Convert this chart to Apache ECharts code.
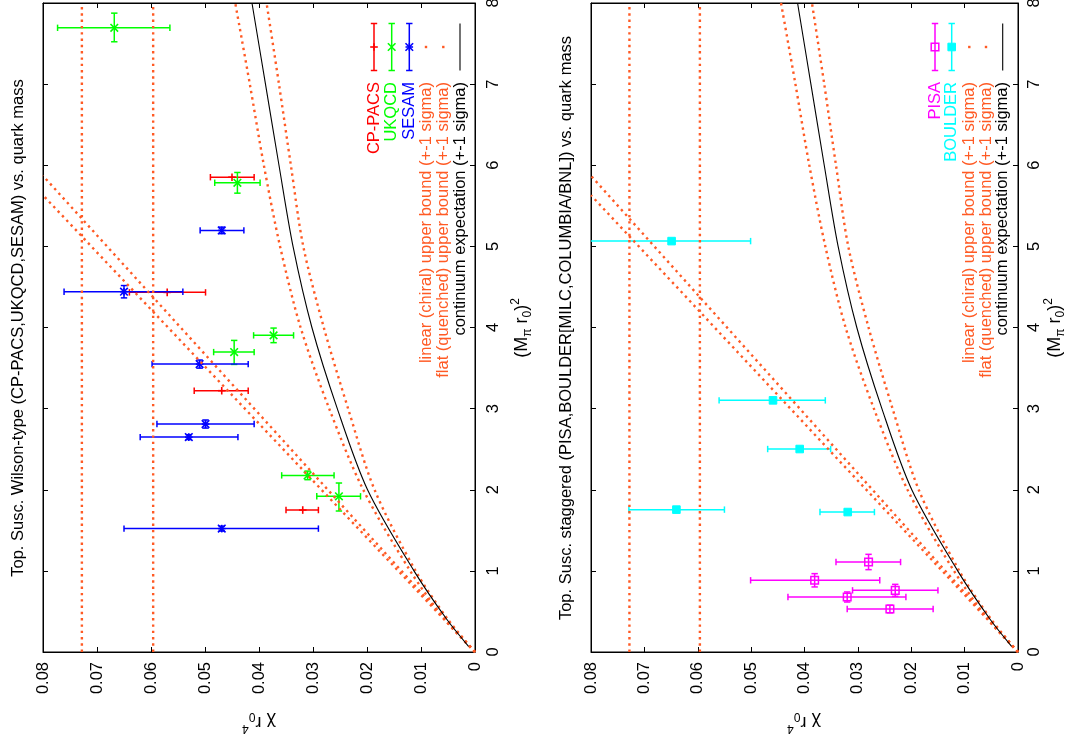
<!DOCTYPE html>
<html>
<head>
<meta charset="utf-8">
<title>Topological susceptibility vs. quark mass</title>
<script src="https://cdn.jsdelivr.net/npm/echarts@6/dist/echarts.min.js"></script>
<style>
  html, body { margin: 0; padding: 0; background: #fff; }
  #chart { width: 1072px; height: 742px; }
</style>
</head>
<body>
<div id="chart"></div>
<script>
const FONT = '"Liberation Sans", Arial, Helvetica, sans-serif';
const FONT_SIZE = 16.5;
const ORANGE = "#ff5a24";

// tick labels
const chiTickLabels = ["0", "0.01", "0.02", "0.03", "0.04", "0.05", "0.06", "0.07", "0.08"];
const massTickLabels = ["0", "1", "2", "3", "4", "5", "6", "7", "8"];

// Wilson-type data: mass = (M_pi r0)^2, chi = chi r0^4
const cpPacsMass = [5.853, 4.433, 3.221, 1.75];
const cpPacsChi = [0.045, 0.057, 0.0469, 0.0319];
const cpPacsChiLo = [0.0409, 0.0499, 0.042, 0.029];
const cpPacsChiHi = [0.049, 0.064, 0.052, 0.035];

const ukqcdMass = [7.694, 5.784, 3.903, 3.697, 2.177, 1.919];
const ukqcdMassLo = [7.522, 5.656, 3.813, 3.545, 2.124, 1.738];
const ukqcdMassHi = [7.875, 5.911, 3.993, 3.841, 2.23, 2.083];
const ukqcdChi = [0.0668, 0.044, 0.0373, 0.0446, 0.031, 0.0252];
const ukqcdChiLo = [0.0565, 0.0398, 0.0336, 0.0409, 0.0261, 0.0212];
const ukqcdChiHi = [0.0773, 0.0482, 0.041, 0.0484, 0.0358, 0.0293];

const sesamMass = [5.197, 4.441, 3.549, 2.81, 2.649, 1.521];
const sesamMassLo = [5.157, 4.365, 3.499, 2.76, 2.619, 1.491];
const sesamMassHi = [5.237, 4.517, 3.599, 2.86, 2.679, 1.551];
const sesamChi = [0.0469, 0.065, 0.051, 0.0499, 0.053, 0.0469];
const sesamChiLo = [0.0428, 0.0541, 0.042, 0.0409, 0.0439, 0.029];
const sesamChiHi = [0.0509, 0.0761, 0.0598, 0.0589, 0.062, 0.065];

// staggered data
const pisaMass = [1.109, 0.884, 0.76, 0.678, 0.53];
const pisaMassLo = [1.015, 0.802, 0.686, 0.616, 0.483];
const pisaMassHi = [1.204, 0.966, 0.834, 0.74, 0.577];
const pisaChi = [0.028, 0.0381, 0.023, 0.032, 0.024];
const pisaChiLo = [0.022, 0.0259, 0.015, 0.021, 0.0159];
const pisaChiHi = [0.0341, 0.0501, 0.031, 0.0431, 0.032];

const boulderMass = [5.065, 3.102, 2.502, 1.755, 1.725];
const boulderChi = [0.0649, 0.0459, 0.0409, 0.064, 0.0319];
const boulderChiLo = [0.0501, 0.0361, 0.0351, 0.055, 0.0269];
const boulderChiHi = [0.0805, 0.056, 0.0469, 0.0729, 0.0371];

// bounds and expectation curves
const flatBoundChi = [0.0728, 0.0596];
const flatBoundMass = [0, 8];
const chiralEndMass = [5.87, 5.63];
const chiralEndChi = 0.08;

const contMass = [0.07, 0.4, 1, 2, 3, 4, 5, 6, 7, 8];
const contChi = [0.0012, 0.0052, 0.0113, 0.0199, 0.0255, 0.0302, 0.0337, 0.0363, 0.0388, 0.0413];
const bandMass = [0, 0.4, 1, 2, 3, 4, 5, 6, 7, 8];
const bandUpperChi = [0, 0.0056, 0.012, 0.0207, 0.027, 0.0323, 0.0361, 0.0391, 0.0417, 0.0444];
const bandLowerChi = [0, 0.005, 0.011, 0.0186, 0.0235, 0.028, 0.0318, 0.0341, 0.0363, 0.0386];

const markerShapes = (kind, x, y, color) => {
  const s = 3.8;
  const seg = (x1, y1, x2, y2) => ({
    type: "line",
    shape: { x1, y1, x2, y2 },
    style: { stroke: color, lineWidth: 1.6 },
  });
  const plus = [seg(x - s, y, x + s, y), seg(x, y - s, x, y + s)];
  const cross = [seg(x - s, y - s, x + s, y + s), seg(x - s, y + s, x + s, y - s)];
  if (kind === "plus") return plus;
  if (kind === "cross") return cross;
  if (kind === "star") return [...plus, ...cross];
  if (kind === "openSquare") {
    return [{
      type: "rect",
      shape: { x: x - s, y: y - s, width: 2 * s, height: 2 * s },
      style: { stroke: color, fill: null, lineWidth: 1.5 },
    }];
  }
  return [{
    type: "rect",
    shape: { x: x - s, y: y - s, width: 2 * s, height: 2 * s },
    style: { fill: color, stroke: color, lineWidth: 1 },
  }];
};

const makeRenderer = (kind, color, hasMassErr) => (params, api) => {
  const cs = params.coordSys;
  const left = cs.x;
  const right = cs.x + cs.width;
  const top = cs.y;
  const bottom = cs.y + cs.height;
  const cap = 3.2;
  const mass = api.value(1);
  const c = api.coord([api.value(0), mass]);
  const a = api.coord([api.value(2), mass]);
  const b = api.coord([api.value(3), mass]);
  const style = { stroke: color, lineWidth: 1.5 };
  const line = (x1, y1, x2, y2) => ({ type: "line", shape: { x1, y1, x2, y2 }, style });
  const clampX = (x) => Math.max(left, Math.min(right, x));
  const children = [line(clampX(a[0]), c[1], clampX(b[0]), c[1])];
  [a, b].forEach((p) => {
    if (p[0] >= left && p[0] <= right) children.push(line(p[0], c[1] - cap, p[0], c[1] + cap));
  });
  if (hasMassErr) {
    const lo = api.coord([api.value(0), api.value(4)]);
    const hi = api.coord([api.value(0), api.value(5)]);
    children.push(line(c[0], Math.min(bottom, lo[1]), c[0], Math.max(top, hi[1])));
    children.push(line(c[0] - cap, lo[1], c[0] + cap, lo[1]));
    children.push(line(c[0] - cap, hi[1], c[0] + cap, hi[1]));
  }
  children.push(...markerShapes(kind, c[0], c[1], color));
  return { type: "group", children };
};

const buildRows = (mass, chi, chiLo, chiHi, massLo, massHi) =>
  mass.map((m, i) => [chi[i], m, chiLo[i], chiHi[i], massLo ? massLo[i] : m, massHi ? massHi[i] : m]);

const pointSeries = (panel, name, rows, kind, color, hasMassErr) => ({
  type: "custom",
  name,
  xAxisIndex: panel * 2,
  yAxisIndex: panel * 2,
  encode: { x: 0, y: 1 },
  data: rows,
  renderItem: makeRenderer(kind, color, hasMassErr),
  silent: true,
  z: 3,
});

const curveSeries = (panel, chi, mass, dotted, smooth) => ({
  type: "line",
  xAxisIndex: panel * 2,
  yAxisIndex: panel * 2,
  data: mass.map((m, i) => [chi[i], m]),
  symbol: "none",
  smooth: smooth ? 0.3 : false,
  silent: true,
  z: 4,
  lineStyle: dotted
    ? { color: ORANGE, width: 2.4, type: [2.4, 3.9], cap: "butt" }
    : { color: "#000", width: 1.1 },
});

const boundSeries = (panel) => [
  ...flatBoundChi.map((v) => curveSeries(panel, flatBoundMass.map(() => v), flatBoundMass, true, false)),
  ...chiralEndMass.map((m) => curveSeries(panel, [0, chiralEndChi], [0, m], true, false)),
  curveSeries(panel, bandUpperChi, bandMass, true, true),
  curveSeries(panel, bandLowerChi, bandMass, true, true),
  curveSeries(panel, contChi, contMass, false, true),
];

const chiAxis = (gridIndex, labeled) => ({
  type: "value",
  gridIndex,
  min: 0,
  max: 0.08,
  interval: 0.01,
  inverse: true,
  position: labeled ? "bottom" : "top",
  axisLine: { show: true, onZero: false, lineStyle: { color: "#000", width: 1 } },
  axisTick: { show: true, inside: true, length: 5, lineStyle: { color: "#000" } },
  axisLabel: labeled
    ? {
        show: true,
        rotate: 90,
        margin: 10,
        align: "right",
        verticalAlign: "middle",
        fontSize: FONT_SIZE,
        fontFamily: FONT,
        color: "#000",
        formatter: (v) => chiTickLabels[Math.round(v * 100)],
      }
    : { show: false },
  splitLine: { show: false },
});

const massAxis = (gridIndex, labeled, margin) => ({
  type: "value",
  gridIndex,
  min: 0,
  max: 8,
  interval: 1,
  position: labeled ? "right" : "left",
  axisLine: { show: true, onZero: false, lineStyle: { color: "#000", width: 1 } },
  axisTick: { show: true, inside: true, length: 5, lineStyle: { color: "#000" } },
  axisLabel: labeled
    ? {
        show: true,
        rotate: 90,
        margin,
        align: "center",
        verticalAlign: "top",
        fontSize: FONT_SIZE,
        fontFamily: FONT,
        color: "#000",
        formatter: (v) => massTickLabels[Math.round(v)],
      }
    : { show: false },
  splitLine: { show: false },
});

const HALF_PI = Math.PI / 2;
const rich = {
  a: { fontSize: 18, fontFamily: FONT, lineHeight: 24, color: "#000" },
  b: { fontSize: 12, fontFamily: FONT, lineHeight: 12, verticalAlign: "bottom", color: "#000" },
  c: { fontSize: 12, fontFamily: FONT, lineHeight: 12, verticalAlign: "top", color: "#000" },
};

const textEl = (x, y, text, color, rotation, align) => ({
  type: "text",
  x,
  y,
  rotation,
  silent: true,
  style: {
    text,
    fill: color,
    font: `${FONT_SIZE}px ${FONT}`,
    align,
    verticalAlign: "middle",
  },
});

const richEl = (x, y, text, rotation) => ({
  type: "text",
  x,
  y,
  rotation,
  silent: true,
  style: { text, rich, align: "center", verticalAlign: "middle" },
});

const legendEls = (entries) => {
  const els = [];
  const y1 = 23.5;
  const y2 = 70.5;
  const ym = 47;
  entries.forEach((e) => {
    const seg = (xa, ya, xb, yb) => ({
      type: "line",
      silent: true,
      shape: { x1: xa, y1: ya, x2: xb, y2: yb },
      style: { stroke: e.color, lineWidth: 1.5 },
    });
    if (e.sample === "bar") {
      els.push(seg(e.x, y1, e.x, y2), seg(e.x - 3.2, y1, e.x + 3.2, y1), seg(e.x - 3.2, y2, e.x + 3.2, y2));
      markerShapes(e.marker, e.x, ym, e.color).forEach((m) => els.push({ ...m, silent: true }));
    } else if (e.sample === "dot") {
      els.push({
        type: "rect",
        silent: true,
        shape: { x: e.x - 1.2, y: ym - 1.2, width: 2.4, height: 2.4 },
        style: { fill: ORANGE },
      });
    } else {
      els.push({ ...seg(e.x, y1, e.x, y2), style: { stroke: e.color, lineWidth: 1.1 } });
    }
    els.push(textEl(e.x, 82, e.text, e.color, HALF_PI, "right"));
  });
  return els;
};

const leftLegend = [
  { x: 374, text: "CP-PACS", color: "#ff0000", sample: "bar", marker: "plus" },
  { x: 391.7, text: "UKQCD", color: "#00ff00", sample: "bar", marker: "cross" },
  { x: 409.3, text: "SESAM", color: "#0000ff", sample: "bar", marker: "star" },
  { x: 426, text: "linear (chiral) upper bound (+-1 sigma)", color: ORANGE, sample: "dot" },
  { x: 443.3, text: "flat (quenched) upper bound (+-1 sigma)", color: ORANGE, sample: "dot" },
  { x: 460, text: "continuum expectation (+-1 sigma)", color: "#000", sample: "line" },
];
const rightLegend = [
  { x: 935, text: "PISA", color: "#ff00ff", sample: "bar", marker: "openSquare" },
  { x: 951.7, text: "BOULDER", color: "#00ffff", sample: "bar", marker: "filledSquare" },
  { x: 969.3, text: "linear (chiral) upper bound (+-1 sigma)", color: ORANGE, sample: "dot" },
  { x: 986, text: "flat (quenched) upper bound (+-1 sigma)", color: ORANGE, sample: "dot" },
  { x: 1002.7, text: "continuum expectation (+-1 sigma)", color: "#000", sample: "line" },
];

const chart = echarts.init(document.getElementById("chart"), null, { renderer: "canvas" });

chart.setOption({
  animation: false,
  backgroundColor: "#fff",
  textStyle: { fontFamily: FONT },
  grid: [
    { left: 43, top: 3, width: 432, height: 649, show: true, borderColor: "#000", borderWidth: 1, outerBoundsMode: "none" },
    { left: 591, top: 3, width: 427, height: 649, show: true, borderColor: "#000", borderWidth: 1, outerBoundsMode: "none" },
  ],
  xAxis: [chiAxis(0, true), chiAxis(0, false), chiAxis(1, true), chiAxis(1, false)],
  yAxis: [massAxis(0, true, 10), massAxis(0, false), massAxis(1, true, 8), massAxis(1, false)],
  series: [
    pointSeries(0, "CP-PACS", buildRows(cpPacsMass, cpPacsChi, cpPacsChiLo, cpPacsChiHi), "plus", "#ff0000", false),
    pointSeries(0, "UKQCD", buildRows(ukqcdMass, ukqcdChi, ukqcdChiLo, ukqcdChiHi, ukqcdMassLo, ukqcdMassHi), "cross", "#00ff00", true),
    pointSeries(0, "SESAM", buildRows(sesamMass, sesamChi, sesamChiLo, sesamChiHi, sesamMassLo, sesamMassHi), "star", "#0000ff", true),
    ...boundSeries(0),
    pointSeries(1, "PISA", buildRows(pisaMass, pisaChi, pisaChiLo, pisaChiHi, pisaMassLo, pisaMassHi), "openSquare", "#ff00ff", true),
    pointSeries(1, "BOULDER", buildRows(boulderMass, boulderChi, boulderChiLo, boulderChiHi), "filledSquare", "#00ffff", false),
    ...boundSeries(1),
  ],
  graphic: [
    textEl(18, 328, "Top. Susc. Wilson-type (CP-PACS,UKQCD,SESAM) vs. quark mass", "#000", HALF_PI, "center"),
    textEl(566, 328, "Top. Susc. staggered (PISA,BOULDER[MILC,COLUMBIA/BNL]) vs. quark mass", "#000", HALF_PI, "center"),
    richEl(259, 722, "{a|χ r}{b|0}{c|4}", Math.PI),
    richEl(804, 722, "{a|χ r}{b|0}{c|4}", Math.PI),
    richEl(522, 328, "{a|(M}{b|π}{a| r}{b|0}{a|)}{c|2}", HALF_PI),
    richEl(1055, 328, "{a|(M}{b|π}{a| r}{b|0}{a|)}{c|2}", HALF_PI),
    ...legendEls(leftLegend),
    ...legendEls(rightLegend),
  ],
});
</script>
</body>
</html>
